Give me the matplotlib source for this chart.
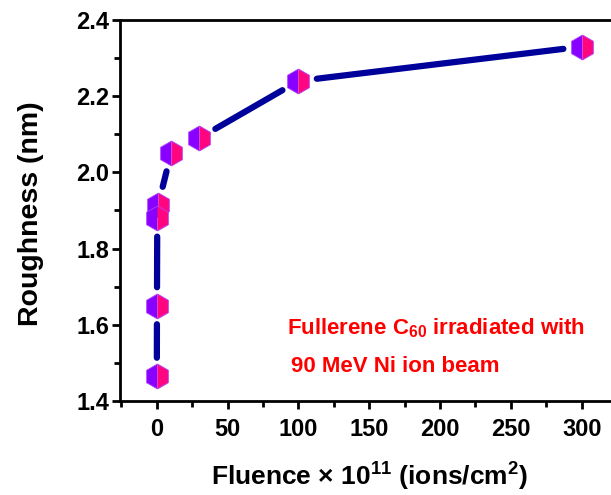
import numpy as np
import matplotlib
matplotlib.use("Agg")
import matplotlib.pyplot as plt
from matplotlib.ticker import MultipleLocator
from matplotlib.transforms import IdentityTransform

plt.rcParams['font.family'] = ['Liberation Sans', 'DejaVu Sans']
plt.rcParams['font.weight'] = 'bold'
plt.rcParams['mathtext.fontset'] = 'custom'
plt.rcParams['mathtext.rm'] = 'Liberation Sans:bold'
plt.rcParams['mathtext.bf'] = 'Liberation Sans:bold'
plt.rcParams['mathtext.it'] = 'Liberation Sans:bold'
plt.rcParams['mathtext.default'] = 'bf'

# Data
fluence = [0, 0.1, 0.3, 1, 10, 30, 100, 300]
roughness = [1.465, 1.65, 1.88, 1.915, 2.05, 2.09, 2.24, 2.33]
xticks = [0, 50, 100, 150, 200, 250, 300]
yticks = [1.4, 1.6, 1.8, 2.0, 2.2, 2.4]

W, H = 611, 495
fig = plt.figure(figsize=(W/100, H/100), dpi=100)
ax = fig.add_axes([120/W, 94/H, 1.0 - 120/W + 0.01, (401-20)/H])
ax.set_xlim(-26, 325)
ax.set_ylim(1.4, 2.4)

for s in ['left', 'bottom', 'top', 'right']:
    ax.spines[s].set_linewidth(2.0)

ax.set_xticks(xticks)
ax.set_yticks(yticks)
ax.set_yticklabels([f"{v:.1f}" for v in yticks])
ax.xaxis.set_minor_locator(MultipleLocator(25))
ax.yaxis.set_minor_locator(MultipleLocator(0.1))
ax.tick_params(which='major', direction='out', length=6, width=2, labelsize=17)
ax.tick_params(which='minor', direction='out', length=4, width=2)
ax.tick_params(axis='x', which='major', pad=6)
ax.tick_params(axis='y', which='major', pad=2)
ax.tick_params(top=False, right=False, which='both')
for lab in ax.get_xticklabels() + ax.get_yticklabels():
    lab.set_fontweight('bold')

ax.set_xlabel("Fluence \u00d7 10$^{11}$ (ions/cm$^{2}$)", fontsize=19, fontweight='bold')
ax.set_ylabel("Roughness (nm)", fontsize=20.5, fontweight='bold')
axw = ax.get_position().width * W
axh = ax.get_position().height * H
ax.xaxis.set_label_coords((370-120)/axw, (401-461)/axh)
ax.yaxis.set_label_coords((44-120)/axw, 0.5 + (401-214-axh/2)/axh)

# line segments with gaps near markers (Origin style)
fig.canvas.draw()
pts = ax.transData.transform(np.column_stack([fluence, roughness]))
gap = 18.5
for (x0, y0), (x1, y1) in zip(pts[:-1], pts[1:]):
    d = np.hypot(x1 - x0, y1 - y0)
    if d <= 2 * gap:
        continue
    ux, uy = (x1 - x0) / d, (y1 - y0) / d
    ax.plot([x0 + ux*gap, x1 - ux*gap], [y0 + uy*gap, y1 - uy*gap],
            transform=IdentityTransform(), color='#00009a', lw=4.5,
            solid_capstyle='round', zorder=2, clip_on=False)

ax.plot(fluence[::-1], roughness[::-1], linestyle='none', marker='h', markersize=18,
        fillstyle='left', markerfacecolor='#8800ff', markerfacecoloralt='#ff0680',
        markeredgecolor='#b040ff', markeredgewidth=0.6, zorder=3, clip_on=False)

fig.text(287/W, 1 - 328/H, "Fullerene C$_{60}$ irradiated with",
         color='#ff0000', fontsize=16, fontweight='bold', ha='left', va='center')
fig.text(291/W, 1 - 366/H, "90 MeV Ni ion beam",
         color='#ff0000', fontsize=16, fontweight='bold', ha='left', va='center')

fig.savefig("out.png", dpi=100)
